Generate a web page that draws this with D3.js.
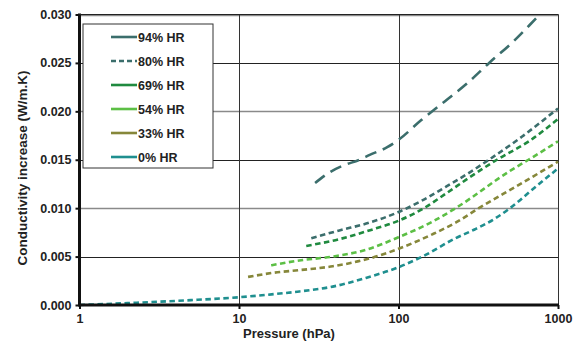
<!DOCTYPE html>
<html>
<head>
<meta charset="utf-8">
<script src="https://cdn.jsdelivr.net/npm/d3@7"></script>
<style>
  body { margin: 0; background: #fff; }
  text { font-family: Arial, "Liberation Sans", sans-serif; font-weight: bold; fill: #222; }
</style>
</head>
<body>
<div id="chart"></div>
<script>
// pressure (hPa) and conductivity increase (W/m.K)
hr94 = [[30,0.0126],[37,0.0137],[45,0.0144],[57,0.0150],[66,0.0155],[85,0.0163],[99,0.0170],[139,0.0191],[194,0.0210],[270,0.0229],[370,0.0250],[516,0.0271],[729,0.0296],[770,0.0300]]
hr80 = [[28.4,0.0069],[42.6,0.0077],[65.6,0.0085],[100,0.0096],[141,0.0108],[198,0.0122],[280,0.0137],[369,0.0150],[596,0.0174],[1000,0.0203]]
hr69 = [[26.4,0.0061],[42.6,0.0068],[65.6,0.0077],[100,0.0087],[141,0.0099],[198,0.0115],[280,0.0132],[414,0.0150],[656,0.0169],[1000,0.0192]]
hr54 = [[15.9,0.0041],[23.9,0.0046],[38.7,0.0050],[62.5,0.0057],[100,0.0070],[163,0.0086],[228,0.0100],[506,0.0139],[653,0.0150],[1000,0.0169]]
hr33 = [[11.4,0.0029],[16,0.0033],[23.9,0.0036],[38.7,0.0040],[65.6,0.0048],[100,0.0058],[163,0.0073],[228,0.0085],[319,0.0100],[568,0.0124],[1000,0.0148]]
hr0 = [[1,0],[2,0.0002],[5,0.0005],[10,0.0008],[16,0.0011],[23.9,0.0014],[38.7,0.0019],[62.5,0.0028],[100,0.0039],[141,0.0050],[228,0.0069],[300,0.0078],[400,0.0089],[500,0.0100],[700,0.0120],[1000,0.0141]]

seriesNames = ["94% HR", "80% HR", "69% HR", "54% HR", "33% HR", "0% HR"]
seriesData = [hr94, hr80, hr69, hr54, hr33, hr0]
colors = ["#3b6e6c", "#3b6e6c", "#1f8a3f", "#5cbf45", "#86873a", "#1f8f8f"]
xTicks = [1, 10, 100, 1000]
yTicks = [0, 0.005, 0.010, 0.015, 0.020, 0.025, 0.030]

const W = 580, H = 343
const mLeft = 79.5, mRight = 558, mTop = 14.5, mBottom = 305

const x = d3.scaleLog().domain([1, 1000]).range([mLeft, mRight])
const y = d3.scaleLinear().domain([0, 0.030]).range([mBottom, mTop])

const svg = d3.select('#chart').append('svg')
    .attr("width", W)
    .attr("height", H)

// horizontal grid (alternate lines drawn grey in the original)
svg.append("g").selectAll("line")
  .data(yTicks.slice(1))
  .enter().append("line")
    .attr("x1", mLeft).attr("x2", mRight)
    .attr("y1", d => Math.round(y(d)) + 0.5).attr("y2", d => Math.round(y(d)) + 0.5)
    .attr("stroke", (d, i) => (i % 2 == 1) ? "#8a8a8a" : "#222")
    .attr("stroke-width", (d, i) => (i % 2 == 1) ? 1.6 : 1)

// vertical grid + right border
svg.append("g").selectAll("line")
  .data(xTicks.slice(1))
  .enter().append("line")
    .attr("x1", d => Math.round(x(d)) + 0.5).attr("x2", d => Math.round(x(d)) + 0.5)
    .attr("y1", mTop).attr("y2", mBottom)
    .attr("stroke", "#333")
    .attr("stroke-width", 1)

// series
const line = d3.line()
  .x(d => x(d[0]))
  .y(d => y(d[1]))
  .curve(d3.curveMonotoneX)

svg.append("g").selectAll("path")
  .data(seriesData)
  .enter().append("path")
    .attr("d", line)
    .attr("fill", "none")
    .attr("stroke", (d, i) => colors[i])
    .attr("stroke-width", 2.6)
    .attr("stroke-dasharray", (d, i) => i == 0 ? "12,7" : "5.5,3.5")

// axes
const yAxis = svg.append("g")
  .attr("transform", `translate(${mLeft},0)`)
  .call(d3.axisLeft(y).tickValues(yTicks).tickFormat(d3.format(".3f")).tickSize(4).tickPadding(4))
yAxis.select(".domain").remove()
yAxis.selectAll("line").attr("stroke", "#111").attr("stroke-width", 2)
yAxis.selectAll("text").attr("font-size", 12.5).attr("fill", "#222").attr("font-family", "Arial, 'Liberation Sans', sans-serif")

const xAxis = svg.append("g")
  .attr("transform", `translate(0,${mBottom})`)
  .call(d3.axisBottom(x).tickValues(xTicks).tickFormat(d3.format("d")).tickSize(4).tickPadding(5))
xAxis.select(".domain").remove()
xAxis.selectAll("line").attr("stroke", "#111").attr("stroke-width", 2)
xAxis.selectAll("text").attr("font-size", 12.5).attr("fill", "#222").attr("font-family", "Arial, 'Liberation Sans', sans-serif")

// thick left/bottom axis lines, thin top line
svg.append("line").attr("x1", mLeft).attr("x2", mLeft).attr("y1", mTop - 1).attr("y2", mBottom + 1.5)
  .attr("stroke", "#111").attr("stroke-width", 3)
svg.append("line").attr("x1", mLeft).attr("x2", mRight + 1).attr("y1", mBottom).attr("y2", mBottom)
  .attr("stroke", "#111").attr("stroke-width", 3)
svg.append("line").attr("x1", mLeft).attr("x2", mRight + 0.5).attr("y1", mTop).attr("y2", mTop)
  .attr("stroke", "#222").attr("stroke-width", 1)

// axis titles
svg.append("text")
  .attr("x", 289).attr("y", 338)
  .attr("text-anchor", "middle")
  .attr("font-size", 13)
  .text("Pressure (hPa)")
svg.append("text")
  .attr("transform", "translate(27,168) rotate(-90)")
  .attr("text-anchor", "middle")
  .attr("font-size", 13.5)
  .text("Conductivity increase (W/m.K)")

// legend
const legend = svg.append("g")
legend.append("rect")
  .attr("x", 83).attr("y", 24).attr("width", 130).attr("height", 144)
  .attr("fill", "#fff").attr("stroke", "#333").attr("stroke-width", 1)
const item = legend.selectAll(".item")
  .data(seriesNames)
  .enter().append("g")
    .attr("class", "item")
    .attr("transform", (d, i) => `translate(0,${37 + i * 24})`)
item.append("line")
  .attr("x1", 111).attr("x2", 137)
  .attr("stroke", (d, i) => colors[i])
  .attr("stroke-width", 2.6)
  .attr("stroke-dasharray", (d, i) => i == 1 ? "5,3" : null)
item.append("text")
  .attr("x", 138).attr("y", 4.5)
  .attr("font-size", 12.5)
  .text(d => d)
</script>
</body>
</html>
